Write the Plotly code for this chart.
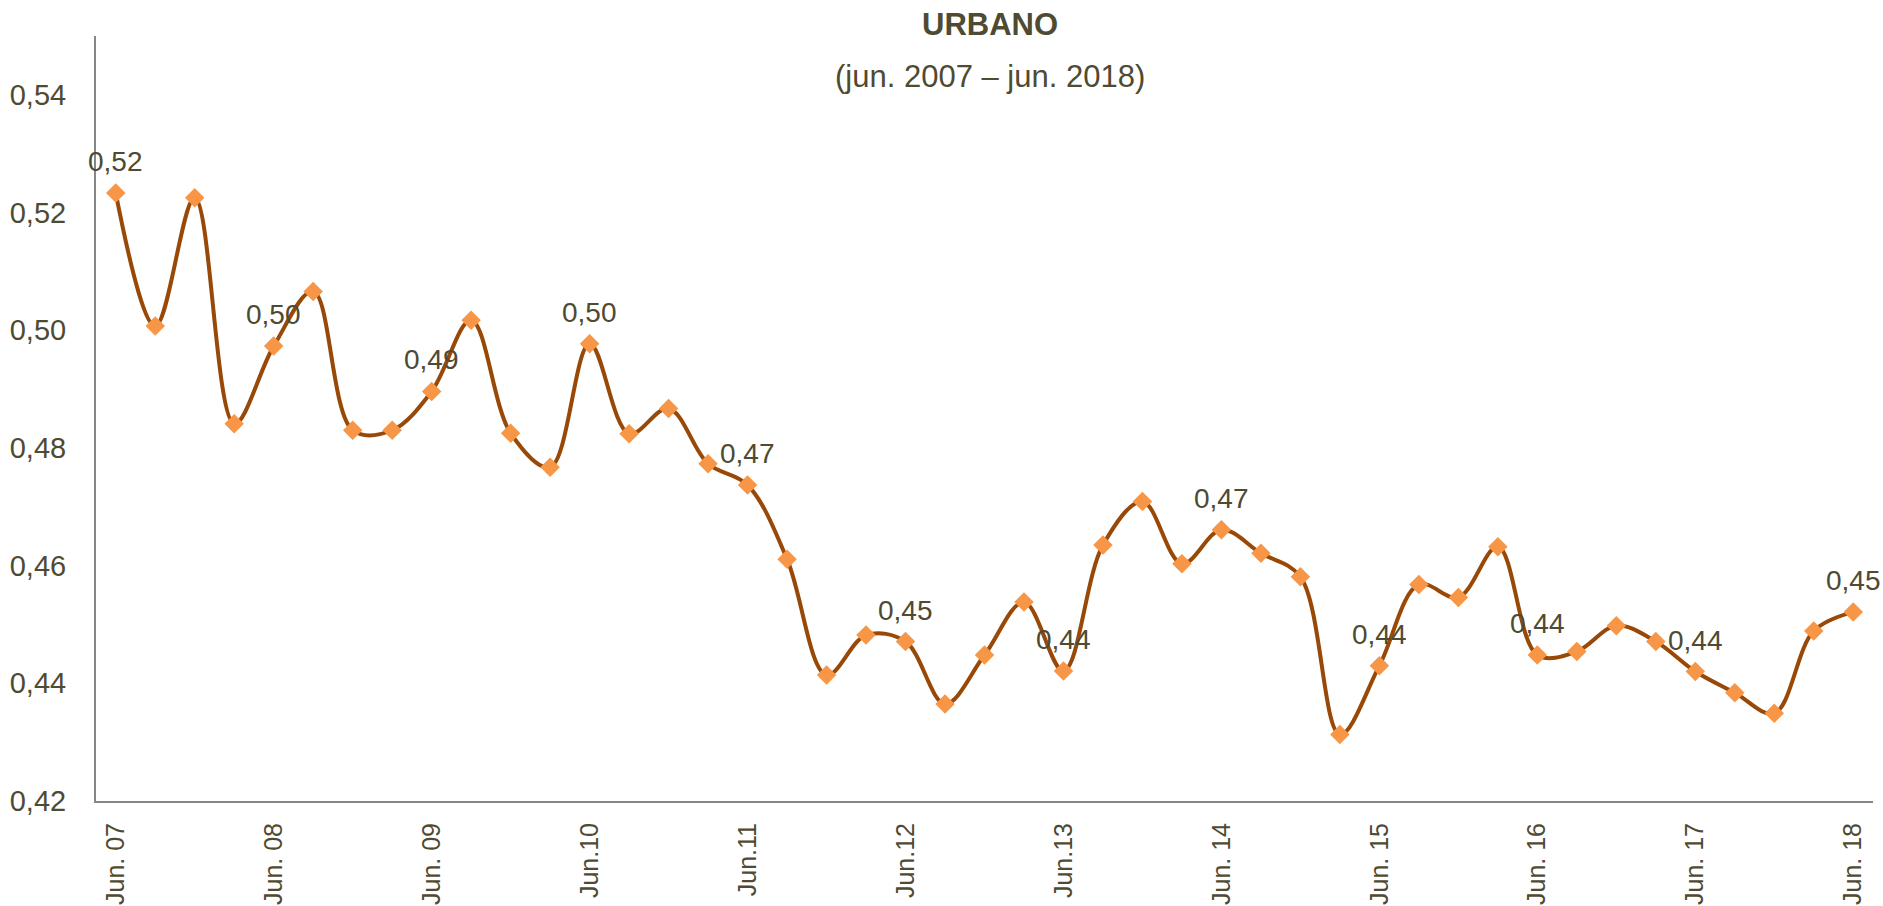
import plotly.graph_objects as go

# Quarterly periods, June 2007 to June 2018
periods = [
    "Jun 07", "Sep 07", "Dic 07", "Mar 08", "Jun 08", "Sep 08", "Dic 08", "Mar 09",
    "Jun 09", "Sep 09", "Dic 09", "Mar 10", "Jun 10", "Sep 10", "Dic 10", "Mar 11",
    "Jun 11", "Sep 11", "Dic 11", "Mar 12", "Jun 12", "Sep 12", "Dic 12", "Mar 13",
    "Jun 13", "Sep 13", "Dic 13", "Mar 14", "Jun 14", "Sep 14", "Dic 14", "Mar 15",
    "Jun 15", "Sep 15", "Dic 15", "Mar 16", "Jun 16", "Sep 16", "Dic 16", "Mar 17",
    "Jun 17", "Sep 17", "Dic 17", "Mar 18", "Jun 18",
]

# Gini coefficient, urban area
gini = [
    0.5233, 0.5007, 0.5225, 0.4841, 0.4973, 0.5066, 0.4830, 0.4830,
    0.4896, 0.5017, 0.4825, 0.4767, 0.4977, 0.4824, 0.4867, 0.4773,
    0.4737, 0.4611, 0.4414, 0.4482, 0.4471, 0.4365, 0.4448, 0.4538,
    0.4421, 0.4635, 0.4709, 0.4603, 0.4661, 0.4621, 0.4581, 0.4313,
    0.4430, 0.4568, 0.4546, 0.4632, 0.4448, 0.4454, 0.4498, 0.4471,
    0.4420, 0.4384, 0.4349, 0.4489, 0.4521,
]

# Tick labels shown on the category axis (one per June)
tick_periods = periods[::4]
tick_labels = [
    "Jun. 07", "Jun. 08", "Jun. 09", "Jun.10", "Jun.11", "Jun.12",
    "Jun.13", "Jun. 14", "Jun. 15", "Jun. 16", "Jun. 17", "Jun. 18",
]

# Every fourth point carries a value label
labelled = list(range(0, len(gini), 4))

FONT = "Liberation Sans Narrow, Arial Narrow, Liberation Sans, Arial, sans-serif"
TEXT = "#4F4A32"

fig = go.Figure()
fig.add_trace(go.Scatter(
    x=periods,
    y=gini,
    mode="lines+markers",
    line=dict(color="#984807", width=4, shape="spline", smoothing=1.0),
    marker=dict(symbol="diamond", size=15, color="#F79646"),
    hoverinfo="x+y",
))

for i in labelled:
    fig.add_annotation(
        x=periods[i], y=gini[i],
        text=f"{gini[i]:.2f}".replace(".", ","),
        showarrow=False, yanchor="bottom", yshift=14,
        font=dict(family=FONT, size=28, color=TEXT),
    )

fig.update_layout(
    width=1883, height=906,
    margin=dict(l=96, r=10, t=36, b=105),
    paper_bgcolor="white", plot_bgcolor="white",
    showlegend=False,
    separators=",.",
    font=dict(family=FONT, size=28, color=TEXT),
)

# Two-line heading: bold area name and period covered
fig.add_annotation(
    xref="paper", yref="paper", x=0.503, y=1, yshift=12, yanchor="middle",
    text="<b>URBANO</b>", showarrow=False,
    font=dict(family=FONT, size=31, color=TEXT),
)
fig.add_annotation(
    xref="paper", yref="paper", x=0.503, y=1, yshift=-40, yanchor="middle",
    text="(jun. 2007 – jun. 2018)", showarrow=False,
    font=dict(family=FONT, size=31, color=TEXT),
)

fig.update_xaxes(
    type="category",
    range=[-0.5, len(periods) - 0.5],
    tickmode="array", tickvals=tick_periods, ticktext=tick_labels,
    tickangle=-90,
    showline=True, linecolor="#868686", linewidth=2,
    showgrid=False, zeroline=False, ticks="",
    ticklabelstandoff=10,
    automargin=False,
    tickfont=dict(family=FONT, size=25, color=TEXT),
)

fig.update_yaxes(
    range=[0.42, 0.55],
    tickmode="array", tickvals=[0.42, 0.44, 0.46, 0.48, 0.50, 0.52, 0.54],
    tickformat=".2f",
    showline=True, linecolor="#868686", linewidth=2,
    showgrid=False, zeroline=False, ticks="",
    ticklabelstandoff=22,
    automargin=False,
    tickfont=dict(family=FONT, size=29, color=TEXT),
)

fig.write_html("out.html")
